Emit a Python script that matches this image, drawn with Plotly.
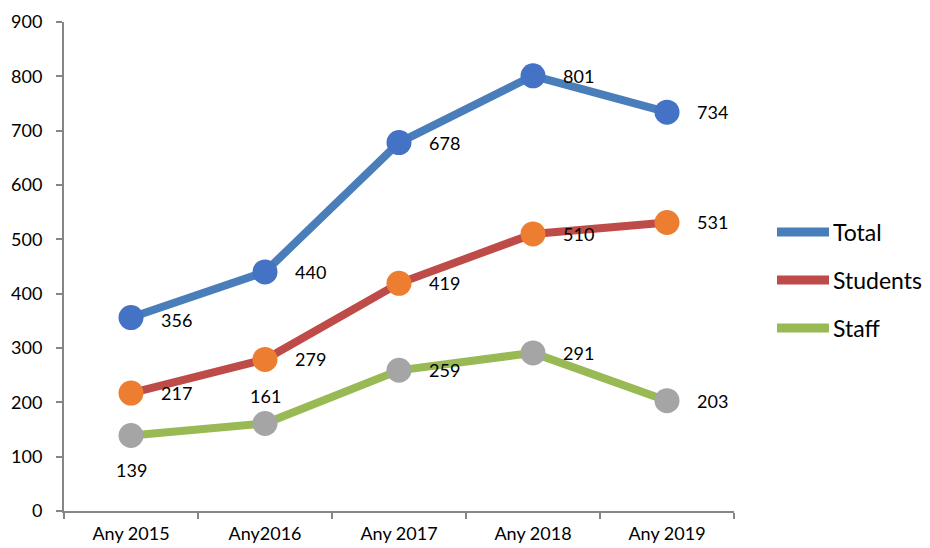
import plotly.graph_objects as go

categories = ["Any 2015", "Any2016", "Any 2017", "Any 2018", "Any 2019"]
total = [356, 440, 678, 801, 734]
students = [217, 279, 419, 510, 531]
staff = [139, 161, 259, 291, 203]

series = [
    ("Total", total, "#4A7EBB", "#4472C4"),
    ("Students", students, "#BE4B48", "#ED7D31"),
    ("Staff", staff, "#98B954", "#A5A5A5"),
]

# label offsets (pixels) per series / point
label_shift = {
    "Total": [(45, -2), (45, 0), (45, 0), (45, 0), (45, 0)],
    "Students": [(45, 0), (45, 0), (45, 0), (45, 0), (45, 0)],
    "Staff": [(0, -35), (0, 28), (45, 0), (45, 0), (45, 0)],
}

FONT = "Lato, Calibri, 'Open Sans', sans-serif"

fig = go.Figure()
annotations = []
for name, vals, lc, mc in series:
    fig.add_trace(go.Scatter(
        x=categories, y=vals, mode="lines+markers", name=name,
        line=dict(color=lc, width=8),
        marker=dict(color=mc, size=25, line=dict(width=0)),
        showlegend=False,
    ))
    for c, v, (dx, dy) in zip(categories, vals, label_shift[name]):
        annotations.append(dict(
            x=c, y=v, text=str(v), showarrow=False, xref="x", yref="y",
            xshift=dx, yshift=dy, font=dict(size=18, color="#000000", family=FONT),
        ))

# legend drawn in paper space to the right of the plot
shapes = []
x0, x1 = 1.0 + (777 - 734) / 670, 1.0 + (829 - 734) / 670
xm = (x0 + x1) / 2
rows = [1 - (232 - 22) / 489, 1 - (280 - 22) / 489, 1 - (328 - 22) / 489]
for (name, vals, lc, mc), yy in zip(series, rows):
    shapes.append(dict(type="line", xref="paper", yref="paper", x0=x0, x1=x1, y0=yy, y1=yy,
                       line=dict(color=lc, width=9)))
    # round caps for the legend swatch
    for xe in (x0, x1):
        fig.add_trace(go.Scatter(
            x=[xe], y=[yy], xaxis="x2", yaxis="y2", mode="markers",
            marker=dict(color=lc, size=9), showlegend=False, hoverinfo="skip",
        ))
    fig.add_trace(go.Scatter(
        x=[xm], y=[yy], xaxis="x2", yaxis="y2", mode="markers",
        marker=dict(color=mc, size=17), showlegend=False, hoverinfo="skip",
    ))
    annotations.append(dict(
        x=x1, y=yy, xref="paper", yref="paper", text=name, showarrow=False,
        xanchor="left", yanchor="middle", xshift=2,
        font=dict(size=23, color="#000000", family=FONT),
    ))

axis_color = "#868686"
fig.update_layout(
    width=930, height=548,
    margin=dict(l=64, r=196, t=22, b=37),
    paper_bgcolor="white", plot_bgcolor="white",
    font=dict(family=FONT, color="#000000"),
    xaxis=dict(
        type="category", range=[-0.5, 4.5], showgrid=False, zeroline=False,
        showline=True, linecolor=axis_color, linewidth=2,
        ticks="outside", tickson="boundaries", ticklen=6, tickcolor=axis_color, tickwidth=2,
        tickfont=dict(size=18), ticklabelstandoff=5, fixedrange=True, automargin=False,
    ),
    yaxis=dict(
        range=[0, 900], dtick=100, showgrid=False, zeroline=False,
        showline=True, linecolor=axis_color, linewidth=2,
        ticks="outside", ticklen=6, tickcolor=axis_color, tickwidth=2,
        tickfont=dict(size=18), ticklabelstandoff=10, automargin=False,
    ),
    xaxis2=dict(domain=[0, 1], range=[0, 1], visible=False, overlaying="x", anchor="y2"),
    yaxis2=dict(domain=[0, 1], range=[0, 1], visible=False, overlaying="y", anchor="x2"),
    shapes=shapes,
    annotations=annotations,
)

fig.write_html("out.html")
